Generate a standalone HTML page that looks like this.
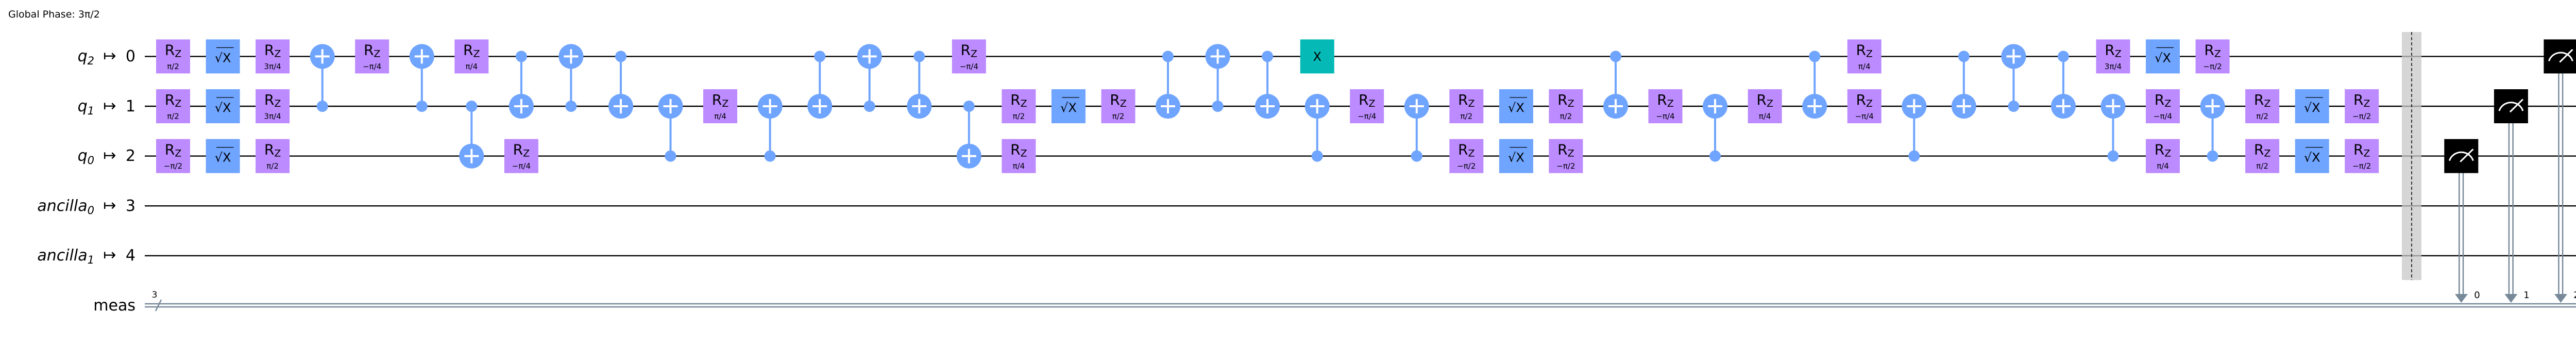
<!DOCTYPE html>
<html><head><meta charset="utf-8"><style>
html,body{margin:0;padding:0;background:#fff;width:5049px;height:665px;overflow:hidden;}
svg{display:block;}
text{font-family:"DejaVu Sans","Liberation Sans",sans-serif;}
.g{font-size:28px;text-anchor:middle;fill:#000;}
.p{font-size:15px;text-anchor:middle;fill:#000;}
.lab{font-size:30px;fill:#000;}
</style></head><body>
<svg width="5049" height="665" viewBox="0 0 5049 665" xmlns="http://www.w3.org/2000/svg">
<defs>
<g id="tg"><circle r="24" fill="#6fa4ff"/><path d="M-14 0H14M0 -14V14" stroke="#fff" stroke-width="4"/></g>
<g id="rz"><rect x="-33" y="-33" width="66" height="66" fill="#bb8bff"/></g>
<g id="sxb"><rect x="-33" y="-33" width="66" height="66" fill="#6fa4ff"/><path d="M-12.6 -17H21" stroke="#000" stroke-width="1.3"/></g>
<g id="mb"><rect x="-33" y="-33" width="66" height="66" fill="#000"/><path d="M-23 9A24 23 0 0 1 23 9" fill="none" stroke="#fff" stroke-width="3"/><path d="M-2 11L23 -13.4" stroke="#fff" stroke-width="3"/></g>
</defs>
<text x="16" y="34" style="font-size:19px">Global Phase: 3π/2</text>
<g class="lab">
<text x="183" y="119" text-anchor="end" font-style="italic">q<tspan font-size="21" dy="6">2</tspan></text>
<text x="213" y="118" text-anchor="middle">↦</text><text x="263" y="119" text-anchor="end">0</text>
<text x="183" y="216" text-anchor="end" font-style="italic">q<tspan font-size="21" dy="6">1</tspan></text>
<text x="213" y="215" text-anchor="middle">↦</text><text x="263" y="216" text-anchor="end">1</text>
<text x="183" y="312" text-anchor="end" font-style="italic">q<tspan font-size="21" dy="6">0</tspan></text>
<text x="213" y="311" text-anchor="middle">↦</text><text x="263" y="312" text-anchor="end">2</text>
<text x="183" y="409" text-anchor="end" font-style="italic">ancilla<tspan font-size="21" dy="6">0</tspan></text>
<text x="213" y="408" text-anchor="middle">↦</text><text x="263" y="409" text-anchor="end">3</text>
<text x="183" y="505" text-anchor="end" font-style="italic">ancilla<tspan font-size="21" dy="6">1</tspan></text>
<text x="213" y="504" text-anchor="middle">↦</text><text x="263" y="505" text-anchor="end">4</text>
<text x="263" y="602" text-anchor="end">meas</text>
</g>
<g stroke="#000" stroke-width="2.4">
<path d="M281 109.4H5027M281 206H5027M281 302.6H5027M281 399.2H5027M281 495.8H5027"/>
</g>
<g stroke="#778899" stroke-width="2.5">
<path d="M281 589H5027M281 595H5027"/>
<path d="M302 603L313 581"/>
</g>
<text x="300" y="577" text-anchor="middle" style="font-size:17px">3</text>
<g stroke="#6fa4ff" stroke-width="4">
<path d="M625.7 109.4V206M818.8 109.4V206M915.3 206V302.6M1011.9 109.4V206M1108.4 109.4V206M1205 109.4V206M1301.5 206V302.6M1494.6 206V302.6M1591.2 109.4V206M1687.7 109.4V206M1784.3 109.4V206M1880.8 206V302.6M2267 109.4V206M2363.6 109.4V206M2460.1 109.4V206M2556.7 206V302.6M2749.8 206V302.6M3136 109.4V206M3329 206V302.6M3522.2 109.4V206M3715.3 206V302.6M3811.8 109.4V206M3908.4 109.4V206M4004.9 109.4V206M4101.5 206V302.6M4294.6 206V302.6"/>
</g>
<g fill="#6fa4ff">
<circle cx="625.7" cy="206" r="11"/><circle cx="818.8" cy="206" r="11"/><circle cx="915.3" cy="206" r="11"/>
<circle cx="1011.9" cy="109.4" r="11"/><circle cx="1108.4" cy="206" r="11"/><circle cx="1205" cy="109.4" r="11"/>
<circle cx="1301.5" cy="302.6" r="11"/><circle cx="1494.6" cy="302.6" r="11"/><circle cx="1591.2" cy="109.4" r="11"/>
<circle cx="1687.7" cy="206" r="11"/><circle cx="1784.3" cy="109.4" r="11"/><circle cx="1880.8" cy="206" r="11"/>
<circle cx="2267" cy="109.4" r="11"/><circle cx="2363.6" cy="206" r="11"/><circle cx="2460.1" cy="109.4" r="11"/>
<circle cx="2556.7" cy="302.6" r="11"/><circle cx="2749.8" cy="302.6" r="11"/><circle cx="3136" cy="109.4" r="11"/>
<circle cx="3329" cy="302.6" r="11"/><circle cx="3522.2" cy="109.4" r="11"/><circle cx="3715.3" cy="302.6" r="11"/>
<circle cx="3811.8" cy="109.4" r="11"/><circle cx="3908.4" cy="206" r="11"/><circle cx="4004.9" cy="109.4" r="11"/>
<circle cx="4101.5" cy="302.6" r="11"/><circle cx="4294.6" cy="302.6" r="11"/>
</g>
<use href="#tg" x="625.7" y="109.4"/><use href="#tg" x="818.8" y="109.4"/><use href="#tg" x="915.3" y="302.6"/>
<use href="#tg" x="1011.9" y="206"/><use href="#tg" x="1108.4" y="109.4"/><use href="#tg" x="1205" y="206"/>
<use href="#tg" x="1301.5" y="206"/><use href="#tg" x="1494.6" y="206"/><use href="#tg" x="1591.2" y="206"/>
<use href="#tg" x="1687.7" y="109.4"/><use href="#tg" x="1784.3" y="206"/><use href="#tg" x="1880.8" y="302.6"/>
<use href="#tg" x="2267" y="206"/><use href="#tg" x="2363.6" y="109.4"/><use href="#tg" x="2460.1" y="206"/>
<use href="#tg" x="2556.7" y="206"/><use href="#tg" x="2749.8" y="206"/><use href="#tg" x="3136" y="206"/>
<use href="#tg" x="3329" y="206"/><use href="#tg" x="3522.2" y="206"/><use href="#tg" x="3715.3" y="206"/>
<use href="#tg" x="3811.8" y="206"/><use href="#tg" x="3908.4" y="109.4"/><use href="#tg" x="4004.9" y="206"/>
<use href="#tg" x="4101.5" y="206"/><use href="#tg" x="4294.6" y="206"/>

<g transform="translate(336,109.4)"><use href="#rz"/><text class="g" y="-3">R<tspan font-size="19" dy="4">Z</tspan></text><text class="p" y="24.6">π/2</text></g>
<g transform="translate(336,206)"><use href="#rz"/><text class="g" y="-3">R<tspan font-size="19" dy="4">Z</tspan></text><text class="p" y="24.6">π/2</text></g>
<g transform="translate(336,302.6)"><use href="#rz"/><text class="g" y="-3">R<tspan font-size="19" dy="4">Z</tspan></text><text class="p" y="24.6">−π/2</text></g>
<g transform="translate(529.1,109.4)"><use href="#rz"/><text class="g" y="-3">R<tspan font-size="19" dy="4">Z</tspan></text><text class="p" y="24.6">3π/4</text></g>
<g transform="translate(529.1,206)"><use href="#rz"/><text class="g" y="-3">R<tspan font-size="19" dy="4">Z</tspan></text><text class="p" y="24.6">3π/4</text></g>
<g transform="translate(529.1,302.6)"><use href="#rz"/><text class="g" y="-3">R<tspan font-size="19" dy="4">Z</tspan></text><text class="p" y="24.6">π/2</text></g>
<g transform="translate(722.2,109.4)"><use href="#rz"/><text class="g" y="-3">R<tspan font-size="19" dy="4">Z</tspan></text><text class="p" y="24.6">−π/4</text></g>
<g transform="translate(915.3,109.4)"><use href="#rz"/><text class="g" y="-3">R<tspan font-size="19" dy="4">Z</tspan></text><text class="p" y="24.6">π/4</text></g>
<g transform="translate(1011.9,302.6)"><use href="#rz"/><text class="g" y="-3">R<tspan font-size="19" dy="4">Z</tspan></text><text class="p" y="24.6">−π/4</text></g>
<g transform="translate(1398,206)"><use href="#rz"/><text class="g" y="-3">R<tspan font-size="19" dy="4">Z</tspan></text><text class="p" y="24.6">π/4</text></g>
<g transform="translate(1880.8,109.4)"><use href="#rz"/><text class="g" y="-3">R<tspan font-size="19" dy="4">Z</tspan></text><text class="p" y="24.6">−π/4</text></g>
<g transform="translate(1977.4,206)"><use href="#rz"/><text class="g" y="-3">R<tspan font-size="19" dy="4">Z</tspan></text><text class="p" y="24.6">π/2</text></g>
<g transform="translate(1977.4,302.6)"><use href="#rz"/><text class="g" y="-3">R<tspan font-size="19" dy="4">Z</tspan></text><text class="p" y="24.6">π/4</text></g>
<g transform="translate(2170.5,206)"><use href="#rz"/><text class="g" y="-3">R<tspan font-size="19" dy="4">Z</tspan></text><text class="p" y="24.6">π/2</text></g>
<g transform="translate(2653.2,206)"><use href="#rz"/><text class="g" y="-3">R<tspan font-size="19" dy="4">Z</tspan></text><text class="p" y="24.6">−π/4</text></g>
<g transform="translate(2846.3,206)"><use href="#rz"/><text class="g" y="-3">R<tspan font-size="19" dy="4">Z</tspan></text><text class="p" y="24.6">π/2</text></g>
<g transform="translate(2846.3,302.6)"><use href="#rz"/><text class="g" y="-3">R<tspan font-size="19" dy="4">Z</tspan></text><text class="p" y="24.6">−π/2</text></g>
<g transform="translate(3039.4,206)"><use href="#rz"/><text class="g" y="-3">R<tspan font-size="19" dy="4">Z</tspan></text><text class="p" y="24.6">π/2</text></g>
<g transform="translate(3039.4,302.6)"><use href="#rz"/><text class="g" y="-3">R<tspan font-size="19" dy="4">Z</tspan></text><text class="p" y="24.6">−π/2</text></g>
<g transform="translate(3232.5,206)"><use href="#rz"/><text class="g" y="-3">R<tspan font-size="19" dy="4">Z</tspan></text><text class="p" y="24.6">−π/4</text></g>
<g transform="translate(3425.6,206)"><use href="#rz"/><text class="g" y="-3">R<tspan font-size="19" dy="4">Z</tspan></text><text class="p" y="24.6">π/4</text></g>
<g transform="translate(3618.7,109.4)"><use href="#rz"/><text class="g" y="-3">R<tspan font-size="19" dy="4">Z</tspan></text><text class="p" y="24.6">π/4</text></g>
<g transform="translate(3618.7,206)"><use href="#rz"/><text class="g" y="-3">R<tspan font-size="19" dy="4">Z</tspan></text><text class="p" y="24.6">−π/4</text></g>
<g transform="translate(4101.5,109.4)"><use href="#rz"/><text class="g" y="-3">R<tspan font-size="19" dy="4">Z</tspan></text><text class="p" y="24.6">3π/4</text></g>
<g transform="translate(4198,206)"><use href="#rz"/><text class="g" y="-3">R<tspan font-size="19" dy="4">Z</tspan></text><text class="p" y="24.6">−π/4</text></g>
<g transform="translate(4198,302.6)"><use href="#rz"/><text class="g" y="-3">R<tspan font-size="19" dy="4">Z</tspan></text><text class="p" y="24.6">π/4</text></g>
<g transform="translate(4294.6,109.4)"><use href="#rz"/><text class="g" y="-3">R<tspan font-size="19" dy="4">Z</tspan></text><text class="p" y="24.6">−π/2</text></g>
<g transform="translate(4391.1,206)"><use href="#rz"/><text class="g" y="-3">R<tspan font-size="19" dy="4">Z</tspan></text><text class="p" y="24.6">π/2</text></g>
<g transform="translate(4391.1,302.6)"><use href="#rz"/><text class="g" y="-3">R<tspan font-size="19" dy="4">Z</tspan></text><text class="p" y="24.6">π/2</text></g>
<g transform="translate(4584.2,206)"><use href="#rz"/><text class="g" y="-3">R<tspan font-size="19" dy="4">Z</tspan></text><text class="p" y="24.6">−π/2</text></g>
<g transform="translate(4584.2,302.6)"><use href="#rz"/><text class="g" y="-3">R<tspan font-size="19" dy="4">Z</tspan></text><text class="p" y="24.6">−π/2</text></g>

<g transform="translate(432.6,109.4)"><use href="#sxb"/><text class="g" x="0" y="11" style="font-size:24px">√X</text></g>
<g transform="translate(432.6,206)"><use href="#sxb"/><text class="g" x="0" y="11" style="font-size:24px">√X</text></g>
<g transform="translate(432.6,302.6)"><use href="#sxb"/><text class="g" x="0" y="11" style="font-size:24px">√X</text></g>
<g transform="translate(2073.9,206)"><use href="#sxb"/><text class="g" x="0" y="11" style="font-size:24px">√X</text></g>
<g transform="translate(2942.9,206)"><use href="#sxb"/><text class="g" x="0" y="11" style="font-size:24px">√X</text></g>
<g transform="translate(2942.9,302.6)"><use href="#sxb"/><text class="g" x="0" y="11" style="font-size:24px">√X</text></g>
<g transform="translate(4198,109.4)"><use href="#sxb"/><text class="g" x="0" y="11" style="font-size:24px">√X</text></g>
<g transform="translate(4487.7,206)"><use href="#sxb"/><text class="g" x="0" y="11" style="font-size:24px">√X</text></g>
<g transform="translate(4487.7,302.6)"><use href="#sxb"/><text class="g" x="0" y="11" style="font-size:24px">√X</text></g>

<g transform="translate(2556.7,109.4)"><rect x="-33" y="-33" width="66" height="66" fill="#05bab6"/><text class="g" y="8.5" style="font-size:24px">X</text></g>

<rect x="4662" y="62" width="38" height="481" fill="#c8c8c8" fill-opacity="0.75"/>
<path d="M4681 62V543" stroke="#000" stroke-width="1.5" stroke-dasharray="6,4"/>

<g stroke="#778899" stroke-width="2.5">
<path d="M4773.3 335.6V572M4781 335.6V572"/>
<path d="M4869.9 239V572M4877.6 239V572"/>
<path d="M4966.4 142.4V572M4974.1 142.4V572"/>
</g>
<g fill="#778899">
<polygon points="4765,570 4790,570 4777.3,587"/>
<polygon points="4861.4,570 4886.4,570 4873.9,587"/>
<polygon points="4958,570 4983,570 4970.4,587"/>
</g>
<use href="#mb" x="4777.3" y="302.6"/>
<use href="#mb" x="4873.9" y="206"/>
<use href="#mb" x="4970.4" y="109.4"/>
<g style="font-size:18px">
<text x="4808" y="578" text-anchor="middle">0</text>
<text x="4904" y="578" text-anchor="middle">1</text>
<text x="5001" y="578" text-anchor="middle">2</text>
</g>
</svg>
</body></html>
